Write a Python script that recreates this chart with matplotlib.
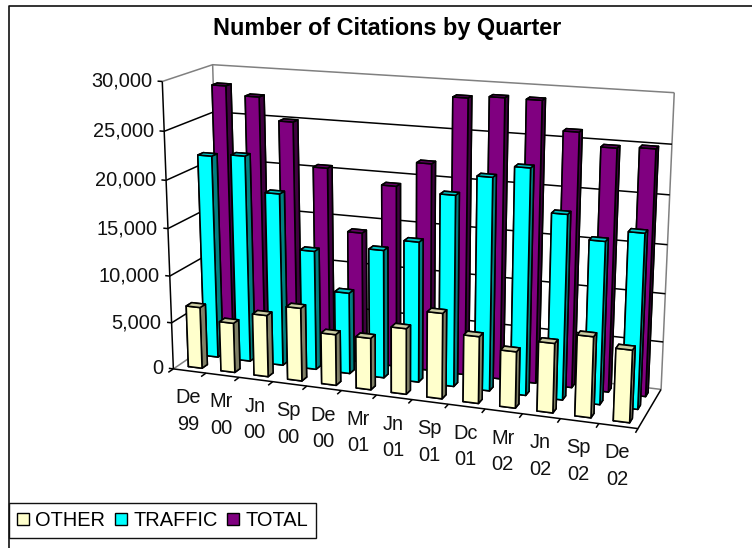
import matplotlib
matplotlib.use('Agg')
import matplotlib.pyplot as plt
from matplotlib.lines import Line2D
from matplotlib.patches import Patch
from mpl_toolkits.mplot3d import proj3d

plt.rcParams['font.family'] = ['Liberation Sans', 'DejaVu Sans']

W, H = 752, 548

quarters = ['De', 'Mr', 'Jn', 'Sp', 'De', 'Mr', 'Jn', 'Sp', 'Dc', 'Mr', 'Jn', 'Sp', 'De']
years = ['99', '00', '00', '00', '00', '01', '01', '01', '01', '02', '02', '02', '02']
other = [6580, 5300, 6540, 7710, 5360, 5400, 6830, 8810, 6860, 5760, 7040, 8140, 7250]
traffic = [21680, 21960, 18330, 12650, 8610, 13460, 14670, 19740, 21830, 23040, 18800, 16480, 17630]
total = [28330, 27400, 25040, 20500, 13980, 19210, 21810, 28690, 28950, 28930, 26070, 24770, 24970]
z_ticks = [0, 5000, 10000, 15000, 20000, 25000, 30000]

series = [('OTHER', other), ('TRAFFIC', traffic), ('TOTAL', total)]
# front, side, top colour of the bars
colors = {
    'OTHER': ('#FFFFCC', '#808066', '#CCCCA3'),
    'TRAFFIC': ('#00FFFF', '#008080', '#00CCCC'),
    'TOTAL': ('#800080', '#400040', '#660066'),
}

n = len(quarters)
rows = len(series)
z_max = z_ticks[-1]

fig = plt.figure(figsize=(W / 100, H / 100), dpi=100)

# camera values fitted against the corners of the reference box
size = 300.466
cx, cy = 409.3787, 240.572
ax = fig.add_axes([(cx - size / 2) / W, (H - cy - size / 2) / H, size / W, size / H], projection='3d')
ax.computed_zorder = False
ax.set_axis_off()
ax.view_init(elev=15.0871, azim=-70.5285, roll=-0.1224)
ax.set_box_aspect((1, 0.2286, 0.6167), zoom=1.8953)
ax.set_xlim(0, n)
ax.set_ylim(0, rows)
ax.set_zlim(0, z_max)
proj = ax.get_proj()


def line(xs, ys, zs, color='black', lw=1.1, zorder=1):
    ax.plot(xs, ys, zs, color=color, lw=lw, zorder=zorder, solid_capstyle='butt')


def label(x, y, z, s, dx, dy, ha, **kw):
    # plain 2D text placed at the projected 3D point, shifted by some pixels
    px, py, _ = proj3d.proj_transform(x, y, z, proj)
    ax.annotate(s, (px, py), xytext=(dx, dy), textcoords='offset pixels', ha=ha, va='center',
                fontsize=14.4, color='#111111', annotation_clip=False, **kw)


# walls and gridlines
gray = '#808080'
line([0, 0], [0, rows], [0, 0], gray)
line([0, n], [rows, rows], [0, 0], gray)
line([0, 0], [rows, rows], [0, z_max], gray)
line([n, n], [rows, rows], [0, z_max], gray)
line([0, 0, n], [0, rows, rows], [z_max, z_max, z_max], gray)
for z in z_ticks[1:-1]:
    line([0, 0, n], [0, rows, rows], [z, z, z])

# axis lines and ticks
line([0, 0], [0, 0], [0, z_max], zorder=2)
line([0, n, n], [0, 0, rows], [0, 0, 0], zorder=2)
for z in z_ticks:
    line([-0.14, 0], [0, 0], [z, z], zorder=2)
    label(0, 0, z, f'{z:,}', -10, 0, 'right')
for i in range(n + 1):
    line([i, i], [0, -0.3], [0, 0], zorder=2)
for i in range(n):
    label(i + 0.5, 0, 0, quarters[i] + '\n' + years[i], -1, -40, 'center', linespacing=1.5)

# bars, back row first
bar_w = 0.42
bar_d = 0.33
order = 10
for r in range(rows - 1, -1, -1):
    name, values = series[r]
    front, side, top = colors[name]
    for i in range(n):
        faces = [side, top, front, side, side, side]
        ax.bar3d(i + 0.3, r + 0.32, 0, bar_w, bar_d, values[i], color=faces, edgecolor='black',
                 linewidth=1.15, shade=False, zorder=order)
        order += 1

ax.set_xlim(0, n)
ax.set_ylim(0, rows)
ax.set_zlim(0, z_max)
for artist in ax.get_children():
    artist.set_clip_on(False)

fig.text(387 / W, 1 - 29 / H, 'Number of Citations by Quarter', ha='center', va='center',
         fontsize=16.8, fontweight='bold', color='black')

# chart frame, only top and left fall inside the picture
fig.add_artist(Line2D([9 / W, 9 / W, 1], [0, 1 - 6 / H, 1 - 6 / H], color='#111111', lw=1.2))

handles = [Patch(facecolor=colors[name][0], edgecolor='black', lw=1.0) for name, _ in series]
leg = fig.legend(handles, [name for name, _ in series], ncol=3, loc='lower left',
                 bbox_to_anchor=(9 / W, 1 - 538 / H), borderaxespad=0, borderpad=0.4,
                 handlelength=0.6, handleheight=0.5, handletextpad=0.3, columnspacing=0.5,
                 fontsize=14.4, fancybox=False, framealpha=1, edgecolor='#111111')
leg.get_frame().set_linewidth(1.0)

fig.savefig('out.png', dpi=100)
